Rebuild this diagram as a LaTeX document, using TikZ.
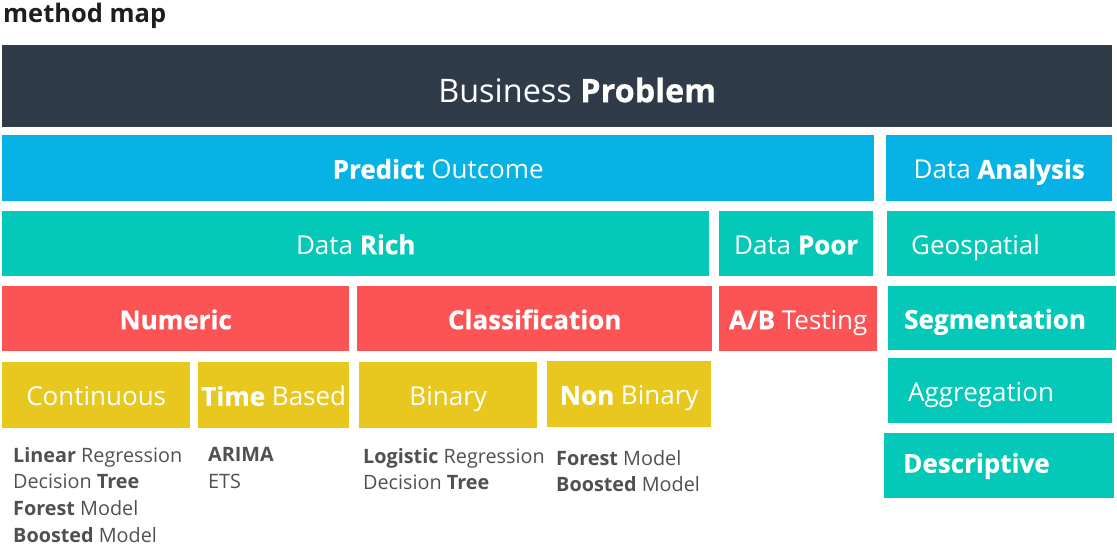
\documentclass[tikz,border=0pt]{standalone}
\usepackage{fontspec}
\setmainfont{Open Sans}
\newfontfamily\heavyfam{Open Sans}[BoldFeatures={FakeBold=0.7}]
\definecolor{cdark}{HTML}{2F3B48}
\definecolor{cblue}{HTML}{07B2E4}
\definecolor{cteal}{HTML}{05C9B8}
\definecolor{cred}{HTML}{FC5355}
\definecolor{cyel}{HTML}{E8C81E}
\definecolor{ctxt}{HTML}{505050}
\definecolor{ctitle}{HTML}{1E1E1E}
\tikzset{
  box/.style={anchor=north west, inner sep=0pt, text=white, font=\heavyfam\fontsize{26}{30}\selectfont, text height=23pt, text depth=2pt},
  listtxt/.style={anchor=north west, inner sep=0pt, align=left, text=ctxt, font=\fontsize{19.8}{26.7}\selectfont},
}
\begin{document}
\begin{tikzpicture}[x=1pt,y=-1pt]
\useasboundingbox (0,0) rectangle (1117,555);
\node[anchor=base west, inner sep=0pt, text=ctitle, font=\fontsize{25.5}{30}\selectfont\bfseries] (title) at (3,22) {method map};
% row 1
\node[box, fill=cdark, minimum width=1110, minimum height=82, font=\heavyfam\fontsize{32.4}{36}\selectfont, text height=32pt, text depth=0pt] (bp) at (2,45) {\hspace*{40pt}Business \textbf{Problem}};
% row 2
\node[box, fill=cblue, minimum width=872, minimum height=66] (po) at (2,135) {\textbf{Predict} Outcome};
\node[box, fill=cblue, minimum width=226, minimum height=66] (da) at (886,135) {Data \textbf{Analysis}};
% row 3
\node[box, fill=cteal, minimum width=707, minimum height=65] (dr) at (2,211) {Data \textbf{Rich}};
\node[box, fill=cteal, minimum width=154, minimum height=65] (dp) at (719,211) {Data \textbf{Poor}};
\node[box, fill=cteal, minimum width=225, minimum height=65, text width=180, align=left, inner xsep=24] (geo) at (887,211) {Geospatial};
% row 4
\node[box, fill=cred, minimum width=347, minimum height=65] (num) at (2,286) {\textbf{Numeric}};
\node[box, fill=cred, minimum width=355, minimum height=65] (cls) at (357,286) {\textbf{Classification}};
\node[box, fill=cred, minimum width=158, minimum height=65] (ab) at (719,286) {\textbf{A/B} Testing};
\node[box, fill=cteal, minimum width=224, minimum height=64, text width=196, align=left, inner xsep=16] (seg) at (888,286) {\textbf{Segmentation}};
% row 5
\node[box, fill=cyel, minimum width=188, minimum height=66] (cont) at (2,362) {Continuous};
\node[box, fill=cyel, minimum width=151, minimum height=66] (tb) at (198,362) {\textbf{Time} Based};
\node[box, fill=cyel, minimum width=178, minimum height=66] (bin) at (359,362) {Binary};
\node[box, fill=cyel, minimum width=164, minimum height=66] (nb) at (547,361) {\textbf{Non} Binary};
\node[box, fill=cteal, minimum width=224, minimum height=65, text width=184, align=left, inner xsep=20] (agg) at (888,358) {Aggregation};
\node[box, fill=cteal, minimum width=228, minimum height=65, text width=192, align=left, inner xsep=19, text height=18pt, text depth=4pt] (desc) at (884,433) {\textbf{Descriptive}};
% lists
\node[listtxt] (l1) at (13,447) {\textbf{Linear} Regression\\Decision \textbf{Tree}\\\textbf{Forest} Model\\\textbf{Boosted} Model};
\node[listtxt] (l2) at (208,447) {\textbf{ARIMA}\\ETS};
\node[listtxt] (l3) at (363,448) {\textbf{Logistic} Regression\\Decision \textbf{Tree}};
\node[listtxt] (l4) at (556,450) {\textbf{Forest} Model\\\textbf{Boosted} Model};
\end{tikzpicture}
\end{document}
